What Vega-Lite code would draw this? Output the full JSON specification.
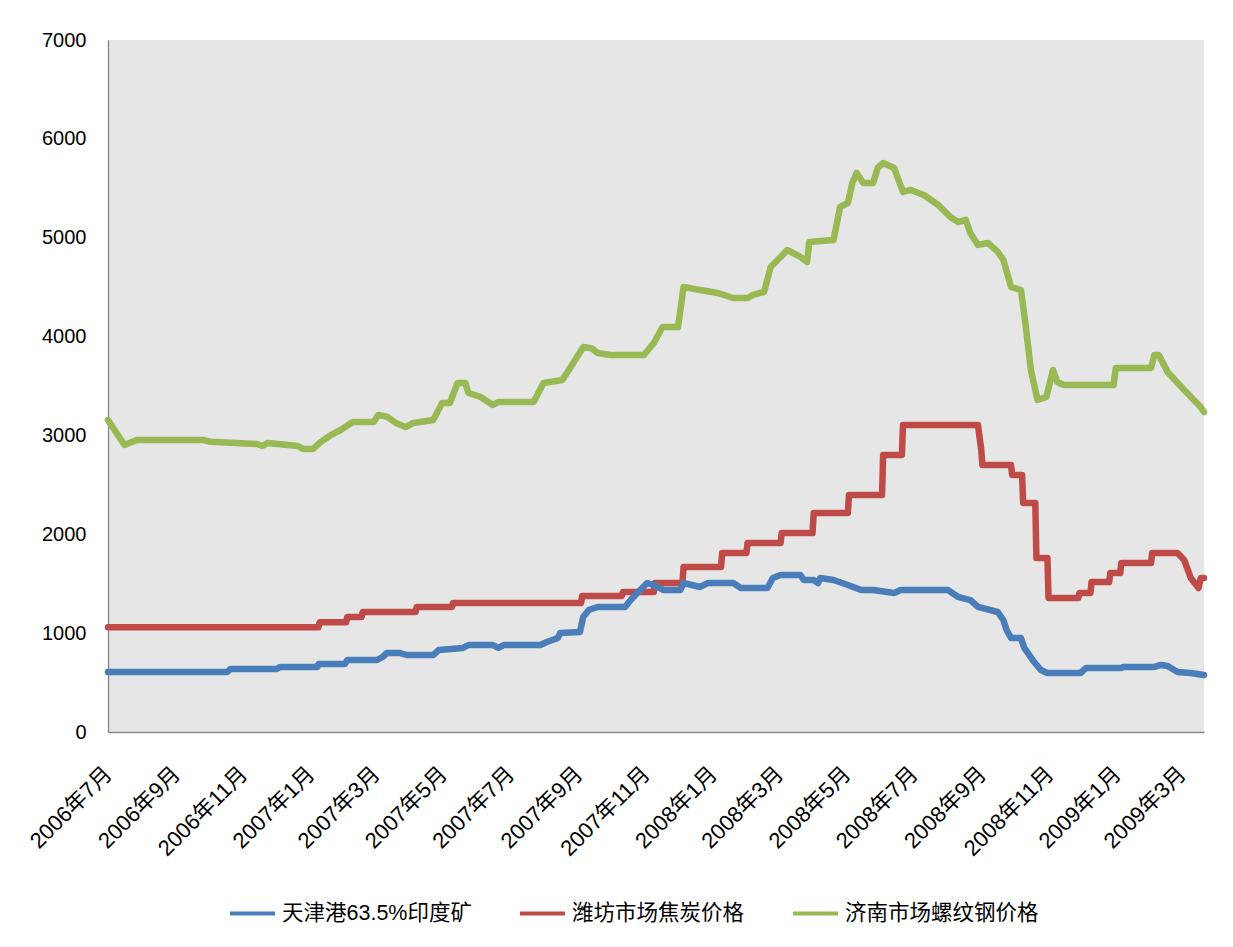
{
  "$schema": "https://vega.github.io/schema/vega-lite/v6.json",
  "width": 1096,
  "height": 692,
  "autosize": {"type": "none"},
  "padding": {"left": 108, "top": 40, "right": 29, "bottom": 215},
  "background": "white",
  "config": {
    "view": {"fill": "#e6e6e6", "stroke": null},
    "font": "Liberation Sans, Noto Sans CJK SC"
  },
  "layer": [
    {
      "data": {
        "values": [
          {"s": "济南市场螺纹钢价格", "d": "2006-07-01", "v": 3156},
          {"s": "济南市场螺纹钢价格", "d": "2006-07-16", "v": 2903},
          {"s": "济南市场螺纹钢价格", "d": "2006-07-27", "v": 2954},
          {"s": "济南市场螺纹钢价格", "d": "2006-09-25", "v": 2954},
          {"s": "济南市场螺纹钢价格", "d": "2006-10-02", "v": 2935},
          {"s": "济南市场螺纹钢价格", "d": "2006-10-20", "v": 2925},
          {"s": "济南市场螺纹钢价格", "d": "2006-11-13", "v": 2913},
          {"s": "济南市场螺纹钢价格", "d": "2006-11-18", "v": 2893},
          {"s": "济南市场螺纹钢价格", "d": "2006-11-23", "v": 2924},
          {"s": "济南市场螺纹钢价格", "d": "2006-12-20", "v": 2893},
          {"s": "济南市场螺纹钢价格", "d": "2006-12-25", "v": 2863},
          {"s": "济南市场螺纹钢价格", "d": "2007-01-03", "v": 2863},
          {"s": "济南市场螺纹钢价格", "d": "2007-01-09", "v": 2924},
          {"s": "济南市场螺纹钢价格", "d": "2007-01-19", "v": 3004},
          {"s": "济南市场螺纹钢价格", "d": "2007-01-28", "v": 3055},
          {"s": "济南市场螺纹钢价格", "d": "2007-02-08", "v": 3136},
          {"s": "济南市场螺纹钢价格", "d": "2007-02-27", "v": 3136},
          {"s": "济南市场螺纹钢价格", "d": "2007-03-03", "v": 3207},
          {"s": "济南市场螺纹钢价格", "d": "2007-03-11", "v": 3190},
          {"s": "济南市场螺纹钢价格", "d": "2007-03-19", "v": 3126},
          {"s": "济南市场螺纹钢价格", "d": "2007-03-28", "v": 3085},
          {"s": "济南市场螺纹钢价格", "d": "2007-04-04", "v": 3126},
          {"s": "济南市场螺纹钢价格", "d": "2007-04-22", "v": 3156},
          {"s": "济南市场螺纹钢价格", "d": "2007-04-30", "v": 3328},
          {"s": "济南市场螺纹钢价格", "d": "2007-05-07", "v": 3328},
          {"s": "济南市场螺纹钢价格", "d": "2007-05-14", "v": 3530},
          {"s": "济南市场螺纹钢价格", "d": "2007-05-21", "v": 3530},
          {"s": "济南市场螺纹钢价格", "d": "2007-05-24", "v": 3429},
          {"s": "济南市场螺纹钢价格", "d": "2007-06-04", "v": 3389},
          {"s": "济南市场螺纹钢价格", "d": "2007-06-15", "v": 3308},
          {"s": "济南市场螺纹钢价格", "d": "2007-06-20", "v": 3338},
          {"s": "济南市场螺纹钢价格", "d": "2007-07-22", "v": 3338},
          {"s": "济南市场螺纹钢价格", "d": "2007-07-31", "v": 3530},
          {"s": "济南市场螺纹钢价格", "d": "2007-08-17", "v": 3561},
          {"s": "济南市场螺纹钢价格", "d": "2007-08-27", "v": 3733},
          {"s": "济南市场螺纹钢价格", "d": "2007-09-05", "v": 3895},
          {"s": "济南市场螺纹钢价格", "d": "2007-09-13", "v": 3880},
          {"s": "济南市场螺纹钢价格", "d": "2007-09-18", "v": 3834},
          {"s": "济南市场螺纹钢价格", "d": "2007-09-30", "v": 3814},
          {"s": "济南市场螺纹钢价格", "d": "2007-10-30", "v": 3814},
          {"s": "济南市场螺纹钢价格", "d": "2007-11-08", "v": 3935},
          {"s": "济南市场螺纹钢价格", "d": "2007-11-16", "v": 4097},
          {"s": "济南市场螺纹钢价格", "d": "2007-11-30", "v": 4097},
          {"s": "济南市场螺纹钢价格", "d": "2007-12-05", "v": 4502},
          {"s": "济南市场螺纹钢价格", "d": "2007-12-20", "v": 4471},
          {"s": "济南市场螺纹钢价格", "d": "2008-01-05", "v": 4441},
          {"s": "济南市场螺纹钢价格", "d": "2008-01-19", "v": 4390},
          {"s": "济南市场螺纹钢价格", "d": "2008-02-01", "v": 4390},
          {"s": "济南市场螺纹钢价格", "d": "2008-02-06", "v": 4421},
          {"s": "济南市场螺纹钢价格", "d": "2008-02-16", "v": 4451},
          {"s": "济南市场螺纹钢价格", "d": "2008-02-22", "v": 4704},
          {"s": "济南市场螺纹钢价格", "d": "2008-03-02", "v": 4805},
          {"s": "济南市场螺纹钢价格", "d": "2008-03-08", "v": 4876},
          {"s": "济南市场螺纹钢价格", "d": "2008-03-20", "v": 4805},
          {"s": "济南市场螺纹钢价格", "d": "2008-03-26", "v": 4754},
          {"s": "济南市场螺纹钢价格", "d": "2008-03-28", "v": 4957},
          {"s": "济南市场螺纹钢价格", "d": "2008-04-19", "v": 4977},
          {"s": "济南市场螺纹钢价格", "d": "2008-04-25", "v": 5311},
          {"s": "济南市场螺纹钢价格", "d": "2008-05-02", "v": 5351},
          {"s": "济南市场螺纹钢价格", "d": "2008-05-06", "v": 5554},
          {"s": "济南市场螺纹钢价格", "d": "2008-05-10", "v": 5655},
          {"s": "济南市场螺纹钢价格", "d": "2008-05-16", "v": 5554},
          {"s": "济南市场螺纹钢价格", "d": "2008-05-25", "v": 5554},
          {"s": "济南市场螺纹钢价格", "d": "2008-05-29", "v": 5705},
          {"s": "济南市场螺纹钢价格", "d": "2008-06-03", "v": 5756},
          {"s": "济南市场螺纹钢价格", "d": "2008-06-13", "v": 5705},
          {"s": "济南市场螺纹钢价格", "d": "2008-06-21", "v": 5463},
          {"s": "济南市场螺纹钢价格", "d": "2008-06-28", "v": 5483},
          {"s": "济南市场螺纹钢价格", "d": "2008-07-10", "v": 5432},
          {"s": "济南市场螺纹钢价格", "d": "2008-07-23", "v": 5331},
          {"s": "济南市场螺纹钢价格", "d": "2008-08-03", "v": 5210},
          {"s": "济南市场螺纹钢价格", "d": "2008-08-10", "v": 5159},
          {"s": "济南市场螺纹钢价格", "d": "2008-08-17", "v": 5180},
          {"s": "济南市场螺纹钢价格", "d": "2008-08-21", "v": 5048},
          {"s": "济南市场螺纹钢价格", "d": "2008-08-28", "v": 4927},
          {"s": "济南市场螺纹钢价格", "d": "2008-09-06", "v": 4947},
          {"s": "济南市场螺纹钢价格", "d": "2008-09-15", "v": 4856},
          {"s": "济南市场螺纹钢价格", "d": "2008-09-20", "v": 4775},
          {"s": "济南市场螺纹钢价格", "d": "2008-09-27", "v": 4502},
          {"s": "济南市场螺纹钢价格", "d": "2008-10-06", "v": 4471},
          {"s": "济南市场螺纹钢价格", "d": "2008-10-10", "v": 4137},
          {"s": "济南市场螺纹钢价格", "d": "2008-10-15", "v": 3662},
          {"s": "济南市场螺纹钢价格", "d": "2008-10-21", "v": 3359},
          {"s": "济南市场螺纹钢价格", "d": "2008-10-29", "v": 3389},
          {"s": "济南市场螺纹钢价格", "d": "2008-11-04", "v": 3662},
          {"s": "济南市场螺纹钢价格", "d": "2008-11-08", "v": 3541},
          {"s": "济南市场螺纹钢价格", "d": "2008-11-14", "v": 3510},
          {"s": "济南市场螺纹钢价格", "d": "2008-12-29", "v": 3510},
          {"s": "济南市场螺纹钢价格", "d": "2008-12-31", "v": 3682},
          {"s": "济南市场螺纹钢价格", "d": "2009-02-01", "v": 3682},
          {"s": "济南市场螺纹钢价格", "d": "2009-02-04", "v": 3814},
          {"s": "济南市场螺纹钢价格", "d": "2009-02-08", "v": 3814},
          {"s": "济南市场螺纹钢价格", "d": "2009-02-16", "v": 3642},
          {"s": "济南市场螺纹钢价格", "d": "2009-03-03", "v": 3460},
          {"s": "济南市场螺纹钢价格", "d": "2009-03-18", "v": 3288},
          {"s": "济南市场螺纹钢价格", "d": "2009-03-21", "v": 3237},

          {"s": "潍坊市场焦炭价格", "d": "2006-07-01", "v": 1060},
          {"s": "潍坊市场焦炭价格", "d": "2007-01-08", "v": 1060},
          {"s": "潍坊市场焦炭价格", "d": "2007-01-09", "v": 1110},
          {"s": "潍坊市场焦炭价格", "d": "2007-02-02", "v": 1110},
          {"s": "潍坊市场焦炭价格", "d": "2007-02-03", "v": 1163},
          {"s": "潍坊市场焦炭价格", "d": "2007-02-16", "v": 1163},
          {"s": "潍坊市场焦炭价格", "d": "2007-02-17", "v": 1214},
          {"s": "潍坊市场焦炭价格", "d": "2007-04-06", "v": 1214},
          {"s": "潍坊市场焦炭价格", "d": "2007-04-07", "v": 1265},
          {"s": "潍坊市场焦炭价格", "d": "2007-05-09", "v": 1265},
          {"s": "潍坊市场焦炭价格", "d": "2007-05-10", "v": 1305},
          {"s": "潍坊市场焦炭价格", "d": "2007-09-03", "v": 1305},
          {"s": "潍坊市场焦炭价格", "d": "2007-09-04", "v": 1376},
          {"s": "潍坊市场焦炭价格", "d": "2007-10-10", "v": 1376},
          {"s": "潍坊市场焦炭价格", "d": "2007-10-11", "v": 1416},
          {"s": "潍坊市场焦炭价格", "d": "2007-11-08", "v": 1416},
          {"s": "潍坊市场焦炭价格", "d": "2007-11-09", "v": 1507},
          {"s": "潍坊市场焦炭价格", "d": "2007-12-04", "v": 1507},
          {"s": "潍坊市场焦炭价格", "d": "2007-12-05", "v": 1669},
          {"s": "潍坊市场焦炭价格", "d": "2008-01-08", "v": 1669},
          {"s": "潍坊市场焦炭价格", "d": "2008-01-09", "v": 1811},
          {"s": "潍坊市场焦炭价格", "d": "2008-01-31", "v": 1811},
          {"s": "潍坊市场焦炭价格", "d": "2008-02-01", "v": 1912},
          {"s": "潍坊市场焦炭价格", "d": "2008-03-02", "v": 1912},
          {"s": "潍坊市场焦炭价格", "d": "2008-03-03", "v": 2013},
          {"s": "潍坊市场焦炭价格", "d": "2008-03-31", "v": 2013},
          {"s": "潍坊市场焦炭价格", "d": "2008-04-01", "v": 2215},
          {"s": "潍坊市场焦炭价格", "d": "2008-05-02", "v": 2215},
          {"s": "潍坊市场焦炭价格", "d": "2008-05-03", "v": 2397},
          {"s": "潍坊市场焦炭价格", "d": "2008-06-02", "v": 2397},
          {"s": "潍坊市场焦炭价格", "d": "2008-06-03", "v": 2802},
          {"s": "潍坊市场焦炭价格", "d": "2008-06-20", "v": 2802},
          {"s": "潍坊市场焦炭价格", "d": "2008-06-21", "v": 3106},
          {"s": "潍坊市场焦炭价格", "d": "2008-08-28", "v": 3106},
          {"s": "潍坊市场焦炭价格", "d": "2008-08-31", "v": 2853},
          {"s": "潍坊市场焦炭价格", "d": "2008-09-01", "v": 2701},
          {"s": "潍坊市场焦炭价格", "d": "2008-09-27", "v": 2701},
          {"s": "潍坊市场焦炭价格", "d": "2008-09-28", "v": 2600},
          {"s": "潍坊市场焦炭价格", "d": "2008-10-07", "v": 2600},
          {"s": "潍坊市场焦炭价格", "d": "2008-10-08", "v": 2317},
          {"s": "潍坊市场焦炭价格", "d": "2008-10-19", "v": 2317},
          {"s": "潍坊市场焦炭价格", "d": "2008-10-20", "v": 1760},
          {"s": "潍坊市场焦炭价格", "d": "2008-10-30", "v": 1760},
          {"s": "潍坊市场焦炭价格", "d": "2008-10-31", "v": 1356},
          {"s": "潍坊市场焦炭价格", "d": "2008-11-27", "v": 1356},
          {"s": "潍坊市场焦炭价格", "d": "2008-11-28", "v": 1406},
          {"s": "潍坊市场焦炭价格", "d": "2008-12-08", "v": 1406},
          {"s": "潍坊市场焦炭价格", "d": "2008-12-09", "v": 1517},
          {"s": "潍坊市场焦炭价格", "d": "2008-12-25", "v": 1517},
          {"s": "潍坊市场焦炭价格", "d": "2008-12-26", "v": 1608},
          {"s": "潍坊市场焦炭价格", "d": "2009-01-04", "v": 1608},
          {"s": "潍坊市场焦炭价格", "d": "2009-01-05", "v": 1710},
          {"s": "潍坊市场焦炭价格", "d": "2009-02-01", "v": 1710},
          {"s": "潍坊市场焦炭价格", "d": "2009-02-02", "v": 1811},
          {"s": "潍坊市场焦炭价格", "d": "2009-02-25", "v": 1811},
          {"s": "潍坊市场焦炭价格", "d": "2009-03-03", "v": 1740},
          {"s": "潍坊市场焦炭价格", "d": "2009-03-09", "v": 1558},
          {"s": "潍坊市场焦炭价格", "d": "2009-03-16", "v": 1457},
          {"s": "潍坊市场焦炭价格", "d": "2009-03-18", "v": 1558},
          {"s": "潍坊市场焦炭价格", "d": "2009-03-21", "v": 1558},

          {"s": "天津港63.5%印度矿", "d": "2006-07-01", "v": 607},
          {"s": "天津港63.5%印度矿", "d": "2006-10-17", "v": 607},
          {"s": "天津港63.5%印度矿", "d": "2006-10-20", "v": 637},
          {"s": "天津港63.5%印度矿", "d": "2006-12-01", "v": 637},
          {"s": "天津港63.5%印度矿", "d": "2006-12-04", "v": 658},
          {"s": "天津港63.5%印度矿", "d": "2007-01-07", "v": 658},
          {"s": "天津港63.5%印度矿", "d": "2007-01-08", "v": 688},
          {"s": "天津港63.5%印度矿", "d": "2007-02-01", "v": 688},
          {"s": "天津港63.5%印度矿", "d": "2007-02-03", "v": 728},
          {"s": "天津港63.5%印度矿", "d": "2007-03-02", "v": 728},
          {"s": "天津港63.5%印度矿", "d": "2007-03-07", "v": 759},
          {"s": "天津港63.5%印度矿", "d": "2007-03-11", "v": 799},
          {"s": "天津港63.5%印度矿", "d": "2007-03-23", "v": 799},
          {"s": "天津港63.5%印度矿", "d": "2007-03-29", "v": 779},
          {"s": "天津港63.5%印度矿", "d": "2007-04-22", "v": 779},
          {"s": "天津港63.5%印度矿", "d": "2007-04-27", "v": 830},
          {"s": "天津港63.5%印度矿", "d": "2007-05-19", "v": 850},
          {"s": "天津港63.5%印度矿", "d": "2007-05-24", "v": 880},
          {"s": "天津港63.5%印度矿", "d": "2007-06-15", "v": 880},
          {"s": "天津港63.5%印度矿", "d": "2007-06-20", "v": 850},
          {"s": "天津港63.5%印度矿", "d": "2007-06-25", "v": 880},
          {"s": "天津港63.5%印度矿", "d": "2007-07-28", "v": 880},
          {"s": "天津港63.5%印度矿", "d": "2007-08-03", "v": 910},
          {"s": "天津港63.5%印度矿", "d": "2007-08-13", "v": 951},
          {"s": "天津港63.5%印度矿", "d": "2007-08-15", "v": 1001},
          {"s": "天津港63.5%印度矿", "d": "2007-09-02", "v": 1012},
          {"s": "天津港63.5%印度矿", "d": "2007-09-05", "v": 1163},
          {"s": "天津港63.5%印度矿", "d": "2007-09-10", "v": 1234},
          {"s": "天津港63.5%印度矿", "d": "2007-09-18", "v": 1265},
          {"s": "天津港63.5%印度矿", "d": "2007-10-13", "v": 1265},
          {"s": "天津港63.5%印度矿", "d": "2007-10-18", "v": 1335},
          {"s": "天津港63.5%印度矿", "d": "2007-10-24", "v": 1406},
          {"s": "天津港63.5%印度矿", "d": "2007-11-02", "v": 1507},
          {"s": "天津港63.5%印度矿", "d": "2007-11-08", "v": 1487},
          {"s": "天津港63.5%印度矿", "d": "2007-11-17", "v": 1436},
          {"s": "天津港63.5%印度矿", "d": "2007-12-02", "v": 1436},
          {"s": "天津港63.5%印度矿", "d": "2007-12-05", "v": 1507},
          {"s": "天津港63.5%印度矿", "d": "2007-12-20", "v": 1467},
          {"s": "天津港63.5%印度矿", "d": "2007-12-27", "v": 1507},
          {"s": "天津港63.5%印度矿", "d": "2008-01-19", "v": 1507},
          {"s": "天津港63.5%印度矿", "d": "2008-01-26", "v": 1457},
          {"s": "天津港63.5%印度矿", "d": "2008-02-19", "v": 1457},
          {"s": "天津港63.5%印度矿", "d": "2008-02-24", "v": 1558},
          {"s": "天津港63.5%印度矿", "d": "2008-03-02", "v": 1588},
          {"s": "天津港63.5%印度矿", "d": "2008-03-20", "v": 1588},
          {"s": "天津港63.5%印度矿", "d": "2008-03-23", "v": 1538},
          {"s": "天津港63.5%印度矿", "d": "2008-04-01", "v": 1538},
          {"s": "天津港63.5%印度矿", "d": "2008-04-05", "v": 1507},
          {"s": "天津港63.5%印度矿", "d": "2008-04-07", "v": 1558},
          {"s": "天津港63.5%印度矿", "d": "2008-04-19", "v": 1538},
          {"s": "天津港63.5%印度矿", "d": "2008-05-02", "v": 1487},
          {"s": "天津港63.5%印度矿", "d": "2008-05-14", "v": 1436},
          {"s": "天津港63.5%印度矿", "d": "2008-05-25", "v": 1436},
          {"s": "天津港63.5%印度矿", "d": "2008-06-13", "v": 1406},
          {"s": "天津港63.5%印度矿", "d": "2008-06-19", "v": 1436},
          {"s": "天津港63.5%印度矿", "d": "2008-08-01", "v": 1436},
          {"s": "天津港63.5%印度矿", "d": "2008-08-10", "v": 1366},
          {"s": "天津港63.5%印度矿", "d": "2008-08-21", "v": 1335},
          {"s": "天津港63.5%印度矿", "d": "2008-08-28", "v": 1265},
          {"s": "天津港63.5%印度矿", "d": "2008-09-15", "v": 1214},
          {"s": "天津港63.5%印度矿", "d": "2008-09-20", "v": 1133},
          {"s": "天津港63.5%印度矿", "d": "2008-09-23", "v": 1032},
          {"s": "天津港63.5%印度矿", "d": "2008-09-27", "v": 951},
          {"s": "天津港63.5%印度矿", "d": "2008-10-06", "v": 951},
          {"s": "天津港63.5%印度矿", "d": "2008-10-09", "v": 850},
          {"s": "天津港63.5%印度矿", "d": "2008-10-18", "v": 708},
          {"s": "天津港63.5%印度矿", "d": "2008-10-24", "v": 627},
          {"s": "天津港63.5%印度矿", "d": "2008-10-30", "v": 597},
          {"s": "天津港63.5%印度矿", "d": "2008-11-29", "v": 597},
          {"s": "天津港63.5%印度矿", "d": "2008-12-04", "v": 647},
          {"s": "天津港63.5%印度矿", "d": "2009-01-05", "v": 647},
          {"s": "天津港63.5%印度矿", "d": "2009-01-07", "v": 658},
          {"s": "天津港63.5%印度矿", "d": "2009-02-04", "v": 658},
          {"s": "天津港63.5%印度矿", "d": "2009-02-10", "v": 678},
          {"s": "天津港63.5%印度矿", "d": "2009-02-16", "v": 667},
          {"s": "天津港63.5%印度矿", "d": "2009-02-25", "v": 607},
          {"s": "天津港63.5%印度矿", "d": "2009-03-09", "v": 597},
          {"s": "天津港63.5%印度矿", "d": "2009-03-21", "v": 577}
        ]
      },
      "mark": {"type": "line", "strokeWidth": 6.5, "strokeJoin": "round", "strokeCap": "round"},
      "encoding": {
        "x": {
          "field": "d",
          "type": "temporal",
          "scale": {
            "nice": false,
            "domain": ["2006-07-01", "2009-03-21"]
          },
          "axis": {
            "title": null,
            "labels": false,
            "ticks": false,
            "grid": false,
            "domainColor": "#868686",
            "domainWidth": 1.3
          }
        },
        "y": {
          "field": "v",
          "type": "quantitative",
          "scale": {"domain": [0, 7000], "nice": false},
          "axis": {
            "title": null,
            "values": [0, 1000, 2000, 3000, 4000, 5000, 6000, 7000],
            "format": "d",
            "grid": false,
            "ticks": false,
            "labelFontSize": 20,
            "labelColor": "#000000",
            "labelPadding": 22,
            "domainColor": "#868686",
            "domainWidth": 1.3
          }
        },
        "color": {
          "field": "s",
          "type": "nominal",
          "scale": {
            "domain": ["天津港63.5%印度矿", "潍坊市场焦炭价格", "济南市场螺纹钢价格"],
            "range": ["#4a7ebb", "#be4b48", "#98b954"]
          },
          "legend": {
            "title": null,
            "orient": "none",
            "legendX": 120,
            "legendY": 849,
            "direction": "horizontal",
            "symbolType": "stroke",
            "symbolSize": 2025,
            "symbolStrokeWidth": 4,
            "labelFontSize": 21.5,
            "labelColor": "#000000",
            "labelLimit": 400,
            "columnPadding": 40,
            "labelOffset": 5,
            "padding": 0
          }
        }
      }
    },
    {
      "data": {
        "values": [
          {"d": "2006-07-01", "t": "2006年7月"},
          {"d": "2006-09-01", "t": "2006年9月"},
          {"d": "2006-11-01", "t": "2006年11月"},
          {"d": "2007-01-01", "t": "2007年1月"},
          {"d": "2007-03-01", "t": "2007年3月"},
          {"d": "2007-05-01", "t": "2007年5月"},
          {"d": "2007-07-01", "t": "2007年7月"},
          {"d": "2007-09-01", "t": "2007年9月"},
          {"d": "2007-11-01", "t": "2007年11月"},
          {"d": "2008-01-01", "t": "2008年1月"},
          {"d": "2008-03-01", "t": "2008年3月"},
          {"d": "2008-05-01", "t": "2008年5月"},
          {"d": "2008-07-01", "t": "2008年7月"},
          {"d": "2008-09-01", "t": "2008年9月"},
          {"d": "2008-11-01", "t": "2008年11月"},
          {"d": "2009-01-01", "t": "2009年1月"},
          {"d": "2009-03-01", "t": "2009年3月"}
        ]
      },
      "mark": {
        "type": "text",
        "angle": -45,
        "align": "right",
        "baseline": "middle",
        "fontSize": 22,
        "color": "#000000",
        "dx": -27,
        "dy": 27.5
      },
      "encoding": {
        "x": {"field": "d", "type": "temporal"},
        "y": {"datum": 0, "type": "quantitative"},
        "text": {"field": "t", "type": "nominal"}
      }
    }
  ]
}
